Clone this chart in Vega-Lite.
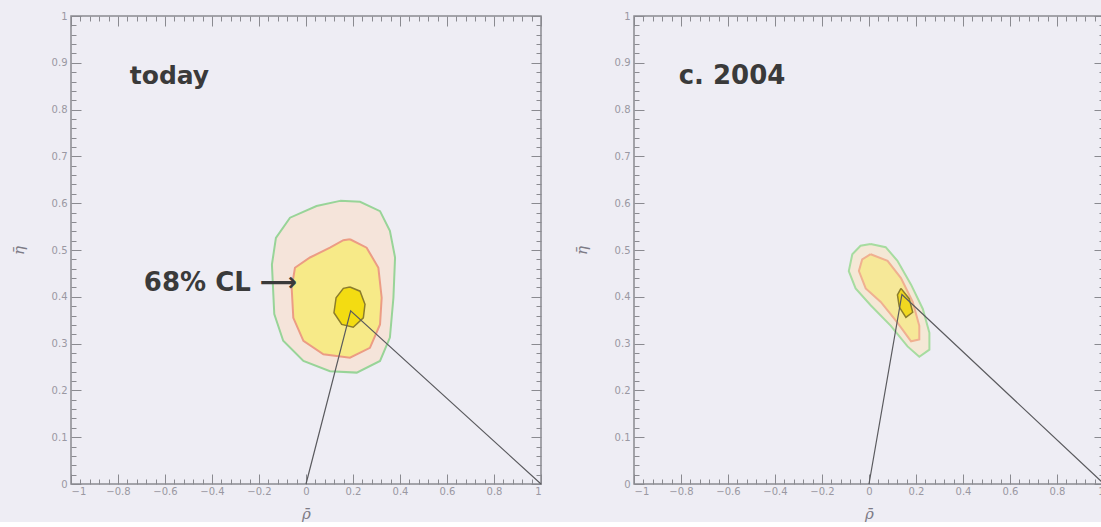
{
  "$schema": "https://vega.github.io/schema/vega-lite/v6.json",
  "background": "#eeedf4",
  "padding": {"left": 10, "top": 10, "right": 0, "bottom": 0},
  "spacing": 28,
  "config": {
    "view": {"stroke": "#8a8a90", "strokeWidth": 1.5},
    "axis": {
      "domain": false,
      "grid": false,
      "labelColor": "#9a98a2",
      "labelFont": "DejaVu Sans",
      "labelFontSize": 10,
      "tickColor": "#8a8a90",
      "tickWidth": 1,
      "titleColor": "#7d7b86",
      "titleFont": "DejaVu Serif",
      "titleFontStyle": "italic",
      "titleFontWeight": "normal",
      "titleFontSize": 15
    },
    "text": {"font": "DejaVu Sans", "fontWeight": "bold", "color": "#3a3a3a"}
  },
  "datasets": {
    "contours": [
      {"panel": "today", "level": "outer", "i": 0, "rho": 0.145, "eta": 0.605},
      {"panel": "today", "level": "outer", "i": 1, "rho": 0.23, "eta": 0.603},
      {"panel": "today", "level": "outer", "i": 2, "rho": 0.315, "eta": 0.583},
      {"panel": "today", "level": "outer", "i": 3, "rho": 0.357, "eta": 0.541},
      {"panel": "today", "level": "outer", "i": 4, "rho": 0.379, "eta": 0.484},
      {"panel": "today", "level": "outer", "i": 5, "rho": 0.372, "eta": 0.398},
      {"panel": "today", "level": "outer", "i": 6, "rho": 0.357, "eta": 0.313},
      {"panel": "today", "level": "outer", "i": 7, "rho": 0.315, "eta": 0.263},
      {"panel": "today", "level": "outer", "i": 8, "rho": 0.216, "eta": 0.238},
      {"panel": "today", "level": "outer", "i": 9, "rho": 0.102, "eta": 0.241},
      {"panel": "today", "level": "outer", "i": 10, "rho": -0.011, "eta": 0.263},
      {"panel": "today", "level": "outer", "i": 11, "rho": -0.097, "eta": 0.306},
      {"panel": "today", "level": "outer", "i": 12, "rho": -0.135, "eta": 0.363},
      {"panel": "today", "level": "outer", "i": 13, "rho": -0.145, "eta": 0.469},
      {"panel": "today", "level": "outer", "i": 14, "rho": -0.128, "eta": 0.526},
      {"panel": "today", "level": "outer", "i": 15, "rho": -0.068, "eta": 0.569},
      {"panel": "today", "level": "outer", "i": 16, "rho": 0.045, "eta": 0.594},
      {"panel": "today", "level": "outer", "i": 17, "rho": 0.145, "eta": 0.605},
      {"panel": "today", "level": "mid", "i": 0, "rho": 0.187, "eta": 0.523},
      {"panel": "today", "level": "mid", "i": 1, "rho": 0.258, "eta": 0.505},
      {"panel": "today", "level": "mid", "i": 2, "rho": 0.308, "eta": 0.462},
      {"panel": "today", "level": "mid", "i": 3, "rho": 0.322, "eta": 0.398},
      {"panel": "today", "level": "mid", "i": 4, "rho": 0.315, "eta": 0.341},
      {"panel": "today", "level": "mid", "i": 5, "rho": 0.272, "eta": 0.291},
      {"panel": "today", "level": "mid", "i": 6, "rho": 0.187, "eta": 0.27},
      {"panel": "today", "level": "mid", "i": 7, "rho": 0.074, "eta": 0.277},
      {"panel": "today", "level": "mid", "i": 8, "rho": -0.011, "eta": 0.306},
      {"panel": "today", "level": "mid", "i": 9, "rho": -0.054, "eta": 0.355},
      {"panel": "today", "level": "mid", "i": 10, "rho": -0.061, "eta": 0.419},
      {"panel": "today", "level": "mid", "i": 11, "rho": -0.047, "eta": 0.462},
      {"panel": "today", "level": "mid", "i": 12, "rho": 0.017, "eta": 0.484},
      {"panel": "today", "level": "mid", "i": 13, "rho": 0.102, "eta": 0.505},
      {"panel": "today", "level": "mid", "i": 14, "rho": 0.159, "eta": 0.521},
      {"panel": "today", "level": "mid", "i": 15, "rho": 0.187, "eta": 0.523},
      {"panel": "today", "level": "inner", "i": 0, "rho": 0.187, "eta": 0.421},
      {"panel": "today", "level": "inner", "i": 1, "rho": 0.23, "eta": 0.412},
      {"panel": "today", "level": "inner", "i": 2, "rho": 0.251, "eta": 0.384},
      {"panel": "today", "level": "inner", "i": 3, "rho": 0.244, "eta": 0.355},
      {"panel": "today", "level": "inner", "i": 4, "rho": 0.201, "eta": 0.335},
      {"panel": "today", "level": "inner", "i": 5, "rho": 0.152, "eta": 0.341},
      {"panel": "today", "level": "inner", "i": 6, "rho": 0.119, "eta": 0.366},
      {"panel": "today", "level": "inner", "i": 7, "rho": 0.128, "eta": 0.398},
      {"panel": "today", "level": "inner", "i": 8, "rho": 0.159, "eta": 0.418},
      {"panel": "today", "level": "inner", "i": 9, "rho": 0.187, "eta": 0.421},
      {"panel": "c2004", "level": "outer", "i": 0, "rho": 0.007, "eta": 0.513},
      {"panel": "c2004", "level": "outer", "i": 1, "rho": 0.071, "eta": 0.506},
      {"panel": "c2004", "level": "outer", "i": 2, "rho": 0.121, "eta": 0.477},
      {"panel": "c2004", "level": "outer", "i": 3, "rho": 0.179, "eta": 0.426},
      {"panel": "c2004", "level": "outer", "i": 4, "rho": 0.229, "eta": 0.374},
      {"panel": "c2004", "level": "outer", "i": 5, "rho": 0.257, "eta": 0.323},
      {"panel": "c2004", "level": "outer", "i": 6, "rho": 0.257, "eta": 0.287},
      {"panel": "c2004", "level": "outer", "i": 7, "rho": 0.214, "eta": 0.272},
      {"panel": "c2004", "level": "outer", "i": 8, "rho": 0.164, "eta": 0.294},
      {"panel": "c2004", "level": "outer", "i": 9, "rho": 0.093, "eta": 0.338},
      {"panel": "c2004", "level": "outer", "i": 10, "rho": 0.007, "eta": 0.382},
      {"panel": "c2004", "level": "outer", "i": 11, "rho": -0.057, "eta": 0.418},
      {"panel": "c2004", "level": "outer", "i": 12, "rho": -0.086, "eta": 0.455},
      {"panel": "c2004", "level": "outer", "i": 13, "rho": -0.071, "eta": 0.491},
      {"panel": "c2004", "level": "outer", "i": 14, "rho": -0.036, "eta": 0.509},
      {"panel": "c2004", "level": "outer", "i": 15, "rho": 0.007, "eta": 0.513},
      {"panel": "c2004", "level": "mid", "i": 0, "rho": 0.007, "eta": 0.491},
      {"panel": "c2004", "level": "mid", "i": 1, "rho": 0.079, "eta": 0.477},
      {"panel": "c2004", "level": "mid", "i": 2, "rho": 0.136, "eta": 0.44},
      {"panel": "c2004", "level": "mid", "i": 3, "rho": 0.186, "eta": 0.389},
      {"panel": "c2004", "level": "mid", "i": 4, "rho": 0.214, "eta": 0.338},
      {"panel": "c2004", "level": "mid", "i": 5, "rho": 0.214, "eta": 0.309},
      {"panel": "c2004", "level": "mid", "i": 6, "rho": 0.179, "eta": 0.305},
      {"panel": "c2004", "level": "mid", "i": 7, "rho": 0.121, "eta": 0.345},
      {"panel": "c2004", "level": "mid", "i": 8, "rho": 0.05, "eta": 0.389},
      {"panel": "c2004", "level": "mid", "i": 9, "rho": -0.014, "eta": 0.418},
      {"panel": "c2004", "level": "mid", "i": 10, "rho": -0.043, "eta": 0.455},
      {"panel": "c2004", "level": "mid", "i": 11, "rho": -0.029, "eta": 0.48},
      {"panel": "c2004", "level": "mid", "i": 12, "rho": 0.007, "eta": 0.491},
      {"panel": "c2004", "level": "inner", "i": 0, "rho": 0.136, "eta": 0.418},
      {"panel": "c2004", "level": "inner", "i": 1, "rho": 0.171, "eta": 0.396},
      {"panel": "c2004", "level": "inner", "i": 2, "rho": 0.186, "eta": 0.367},
      {"panel": "c2004", "level": "inner", "i": 3, "rho": 0.157, "eta": 0.356},
      {"panel": "c2004", "level": "inner", "i": 4, "rho": 0.129, "eta": 0.378},
      {"panel": "c2004", "level": "inner", "i": 5, "rho": 0.121, "eta": 0.404},
      {"panel": "c2004", "level": "inner", "i": 6, "rho": 0.136, "eta": 0.418}
    ],
    "triangle": [
      {"panel": "today", "i": 0, "rho": 0, "eta": 0},
      {"panel": "today", "i": 1, "rho": 0.19, "eta": 0.37},
      {"panel": "today", "i": 2, "rho": 1, "eta": 0},
      {"panel": "c2004", "i": 0, "rho": 0, "eta": 0},
      {"panel": "c2004", "i": 1, "rho": 0.14, "eta": 0.405},
      {"panel": "c2004", "i": 2, "rho": 1, "eta": 0}
    ],
    "labels": [
      {"panel": "today", "text": "today", "rho": -0.75, "eta": 0.872, "size": 25},
      {"panel": "today", "text": "68% CL ⟶", "rho": -0.69, "eta": 0.43, "size": 26},
      {"panel": "c2004", "text": "c. 2004", "rho": -0.81, "eta": 0.872, "size": 26}
    ]
  },
  "hconcat": [
    {
      "width": 470,
      "height": 468,
      "layer": [
        {
          "data": {"name": "contours"},
          "transform": [{"filter": "datum.panel == 'today' && datum.level == 'outer'"}],
          "mark": {"type": "line", "fill": "#f5e4da", "stroke": "#98d498", "strokeWidth": 2},
          "encoding": {
            "x": {"field": "rho", "type": "quantitative", "scale": {"domain": [-1, 1], "nice": false, "zero": false},
              "axis": {"orient": "bottom", "title": "ρ̄", "titlePadding": 10,
                "values": [-1, -0.96, -0.92, -0.88, -0.84, -0.8, -0.76, -0.72, -0.68, -0.64, -0.6, -0.56, -0.52, -0.48, -0.44, -0.4, -0.36, -0.32, -0.28, -0.24, -0.2, -0.16, -0.12, -0.08, -0.04, 0, 0.04, 0.08, 0.12, 0.16, 0.2, 0.24, 0.28, 0.32, 0.36, 0.4, 0.44, 0.48, 0.52, 0.56, 0.6, 0.64, 0.68, 0.72, 0.76, 0.8, 0.84, 0.88, 0.92, 0.96, 1],
                "labelExpr": "abs(datum.value * 5 - round(datum.value * 5)) < 0.001 ? format(datum.value, '.1~f') : ''",
                "tickSize": {"condition": {"test": "abs(datum.value * 5 - round(datum.value * 5)) < 0.001", "value": -10}, "value": -5},
                "labelPadding": 12}},
            "y": {"field": "eta", "type": "quantitative", "scale": {"domain": [0, 1], "nice": false, "zero": false},
              "axis": {"orient": "left", "title": "η̄", "titlePadding": 25,
                "values": [0, 0.02, 0.04, 0.06, 0.08, 0.1, 0.12, 0.14, 0.16, 0.18, 0.2, 0.22, 0.24, 0.26, 0.28, 0.3, 0.32, 0.34, 0.36, 0.38, 0.4, 0.42, 0.44, 0.46, 0.48, 0.5, 0.52, 0.54, 0.56, 0.58, 0.6, 0.62, 0.64, 0.66, 0.68, 0.7, 0.72, 0.74, 0.76, 0.78, 0.8, 0.82, 0.84, 0.86, 0.88, 0.9, 0.92, 0.94, 0.96, 0.98, 1],
                "labelExpr": "abs(datum.value * 10 - round(datum.value * 10)) < 0.001 ? format(datum.value, '.1~f') : ''",
                "tickSize": {"condition": {"test": "abs(datum.value * 10 - round(datum.value * 10)) < 0.001", "value": -10}, "value": -5},
                "labelPadding": 14}},
            "order": {"field": "i", "type": "quantitative"}
          }
        },
        {
          "data": {"name": "contours"},
          "transform": [{"filter": "datum.panel == 'today' && datum.level == 'mid'"}],
          "mark": {"type": "line", "fill": "#f7ea88", "stroke": "#ec9c84", "strokeWidth": 2},
          "encoding": {
            "x": {"field": "rho", "type": "quantitative", "axis": null},
            "y": {"field": "eta", "type": "quantitative", "axis": null},
            "order": {"field": "i", "type": "quantitative"}
          }
        },
        {
          "data": {"name": "contours"},
          "transform": [{"filter": "datum.panel == 'today' && datum.level == 'inner'"}],
          "mark": {"type": "line", "fill": "#f3dc12", "stroke": "#8c7d2c", "strokeWidth": 1.5},
          "encoding": {
            "x": {"field": "rho", "type": "quantitative", "axis": null},
            "y": {"field": "eta", "type": "quantitative", "axis": null},
            "order": {"field": "i", "type": "quantitative"}
          }
        },
        {
          "data": {"name": "triangle"},
          "transform": [{"filter": "datum.panel == 'today'"}],
          "mark": {"type": "line", "stroke": "#5a5a5e", "strokeWidth": 1.2},
          "encoding": {
            "x": {"field": "rho", "type": "quantitative",
              "axis": {"orient": "top", "title": null, "labels": false,
                "values": [-1, -0.96, -0.92, -0.88, -0.84, -0.8, -0.76, -0.72, -0.68, -0.64, -0.6, -0.56, -0.52, -0.48, -0.44, -0.4, -0.36, -0.32, -0.28, -0.24, -0.2, -0.16, -0.12, -0.08, -0.04, 0, 0.04, 0.08, 0.12, 0.16, 0.2, 0.24, 0.28, 0.32, 0.36, 0.4, 0.44, 0.48, 0.52, 0.56, 0.6, 0.64, 0.68, 0.72, 0.76, 0.8, 0.84, 0.88, 0.92, 0.96, 1],
                "tickSize": {"condition": {"test": "abs(datum.value * 5 - round(datum.value * 5)) < 0.001", "value": -10}, "value": -5}}},
            "y": {"field": "eta", "type": "quantitative",
              "axis": {"orient": "right", "title": null, "labels": false,
                "values": [0, 0.02, 0.04, 0.06, 0.08, 0.1, 0.12, 0.14, 0.16, 0.18, 0.2, 0.22, 0.24, 0.26, 0.28, 0.3, 0.32, 0.34, 0.36, 0.38, 0.4, 0.42, 0.44, 0.46, 0.48, 0.5, 0.52, 0.54, 0.56, 0.58, 0.6, 0.62, 0.64, 0.66, 0.68, 0.7, 0.72, 0.74, 0.76, 0.78, 0.8, 0.82, 0.84, 0.86, 0.88, 0.9, 0.92, 0.94, 0.96, 0.98, 1],
                "tickSize": {"condition": {"test": "abs(datum.value * 10 - round(datum.value * 10)) < 0.001", "value": -10}, "value": -5}}},
            "order": {"field": "i", "type": "quantitative"}
          }
        },
        {
          "data": {"name": "labels"},
          "transform": [{"filter": "datum.panel == 'today'"}],
          "mark": {"type": "text", "align": "left", "baseline": "middle"},
          "encoding": {
            "x": {"field": "rho", "type": "quantitative", "axis": null},
            "y": {"field": "eta", "type": "quantitative", "axis": null},
            "text": {"field": "text"},
            "size": {"field": "size", "type": "quantitative", "scale": null}
          }
        }
      ]
    },
    {
      "width": 470,
      "height": 468,
      "layer": [
        {
          "data": {"name": "contours"},
          "transform": [{"filter": "datum.panel == 'c2004' && datum.level == 'outer'"}],
          "mark": {"type": "line", "fill": "#f4e8d6", "stroke": "#a6dca0", "strokeWidth": 2},
          "encoding": {
            "x": {"field": "rho", "type": "quantitative", "scale": {"domain": [-1, 1], "nice": false, "zero": false},
              "axis": {"orient": "bottom", "title": "ρ̄", "titlePadding": 10,
                "values": [-1, -0.96, -0.92, -0.88, -0.84, -0.8, -0.76, -0.72, -0.68, -0.64, -0.6, -0.56, -0.52, -0.48, -0.44, -0.4, -0.36, -0.32, -0.28, -0.24, -0.2, -0.16, -0.12, -0.08, -0.04, 0, 0.04, 0.08, 0.12, 0.16, 0.2, 0.24, 0.28, 0.32, 0.36, 0.4, 0.44, 0.48, 0.52, 0.56, 0.6, 0.64, 0.68, 0.72, 0.76, 0.8, 0.84, 0.88, 0.92, 0.96, 1],
                "labelExpr": "abs(datum.value * 5 - round(datum.value * 5)) < 0.001 ? format(datum.value, '.1~f') : ''",
                "tickSize": {"condition": {"test": "abs(datum.value * 5 - round(datum.value * 5)) < 0.001", "value": -10}, "value": -5},
                "labelPadding": 12}},
            "y": {"field": "eta", "type": "quantitative", "scale": {"domain": [0, 1], "nice": false, "zero": false},
              "axis": {"orient": "left", "title": "η̄", "titlePadding": 25,
                "values": [0, 0.02, 0.04, 0.06, 0.08, 0.1, 0.12, 0.14, 0.16, 0.18, 0.2, 0.22, 0.24, 0.26, 0.28, 0.3, 0.32, 0.34, 0.36, 0.38, 0.4, 0.42, 0.44, 0.46, 0.48, 0.5, 0.52, 0.54, 0.56, 0.58, 0.6, 0.62, 0.64, 0.66, 0.68, 0.7, 0.72, 0.74, 0.76, 0.78, 0.8, 0.82, 0.84, 0.86, 0.88, 0.9, 0.92, 0.94, 0.96, 0.98, 1],
                "labelExpr": "abs(datum.value * 10 - round(datum.value * 10)) < 0.001 ? format(datum.value, '.1~f') : ''",
                "tickSize": {"condition": {"test": "abs(datum.value * 10 - round(datum.value * 10)) < 0.001", "value": -10}, "value": -5},
                "labelPadding": 14}},
            "order": {"field": "i", "type": "quantitative"}
          }
        },
        {
          "data": {"name": "contours"},
          "transform": [{"filter": "datum.panel == 'c2004' && datum.level == 'mid'"}],
          "mark": {"type": "line", "fill": "#f6e898", "stroke": "#f0b090", "strokeWidth": 2},
          "encoding": {
            "x": {"field": "rho", "type": "quantitative", "axis": null},
            "y": {"field": "eta", "type": "quantitative", "axis": null},
            "order": {"field": "i", "type": "quantitative"}
          }
        },
        {
          "data": {"name": "contours"},
          "transform": [{"filter": "datum.panel == 'c2004' && datum.level == 'inner'"}],
          "mark": {"type": "line", "fill": "#f0d820", "stroke": "#8c7d2c", "strokeWidth": 1.5},
          "encoding": {
            "x": {"field": "rho", "type": "quantitative", "axis": null},
            "y": {"field": "eta", "type": "quantitative", "axis": null},
            "order": {"field": "i", "type": "quantitative"}
          }
        },
        {
          "data": {"name": "triangle"},
          "transform": [{"filter": "datum.panel == 'c2004'"}],
          "mark": {"type": "line", "stroke": "#5a5a5e", "strokeWidth": 1.2},
          "encoding": {
            "x": {"field": "rho", "type": "quantitative",
              "axis": {"orient": "top", "title": null, "labels": false,
                "values": [-1, -0.96, -0.92, -0.88, -0.84, -0.8, -0.76, -0.72, -0.68, -0.64, -0.6, -0.56, -0.52, -0.48, -0.44, -0.4, -0.36, -0.32, -0.28, -0.24, -0.2, -0.16, -0.12, -0.08, -0.04, 0, 0.04, 0.08, 0.12, 0.16, 0.2, 0.24, 0.28, 0.32, 0.36, 0.4, 0.44, 0.48, 0.52, 0.56, 0.6, 0.64, 0.68, 0.72, 0.76, 0.8, 0.84, 0.88, 0.92, 0.96, 1],
                "tickSize": {"condition": {"test": "abs(datum.value * 5 - round(datum.value * 5)) < 0.001", "value": -10}, "value": -5}}},
            "y": {"field": "eta", "type": "quantitative",
              "axis": {"orient": "right", "title": null, "labels": false,
                "values": [0, 0.02, 0.04, 0.06, 0.08, 0.1, 0.12, 0.14, 0.16, 0.18, 0.2, 0.22, 0.24, 0.26, 0.28, 0.3, 0.32, 0.34, 0.36, 0.38, 0.4, 0.42, 0.44, 0.46, 0.48, 0.5, 0.52, 0.54, 0.56, 0.58, 0.6, 0.62, 0.64, 0.66, 0.68, 0.7, 0.72, 0.74, 0.76, 0.78, 0.8, 0.82, 0.84, 0.86, 0.88, 0.9, 0.92, 0.94, 0.96, 0.98, 1],
                "tickSize": {"condition": {"test": "abs(datum.value * 10 - round(datum.value * 10)) < 0.001", "value": -10}, "value": -5}}},
            "order": {"field": "i", "type": "quantitative"}
          }
        },
        {
          "data": {"name": "labels"},
          "transform": [{"filter": "datum.panel == 'c2004'"}],
          "mark": {"type": "text", "align": "left", "baseline": "middle"},
          "encoding": {
            "x": {"field": "rho", "type": "quantitative", "axis": null},
            "y": {"field": "eta", "type": "quantitative", "axis": null},
            "text": {"field": "text"},
            "size": {"field": "size", "type": "quantitative", "scale": null}
          }
        }
      ]
    }
  ]
}
